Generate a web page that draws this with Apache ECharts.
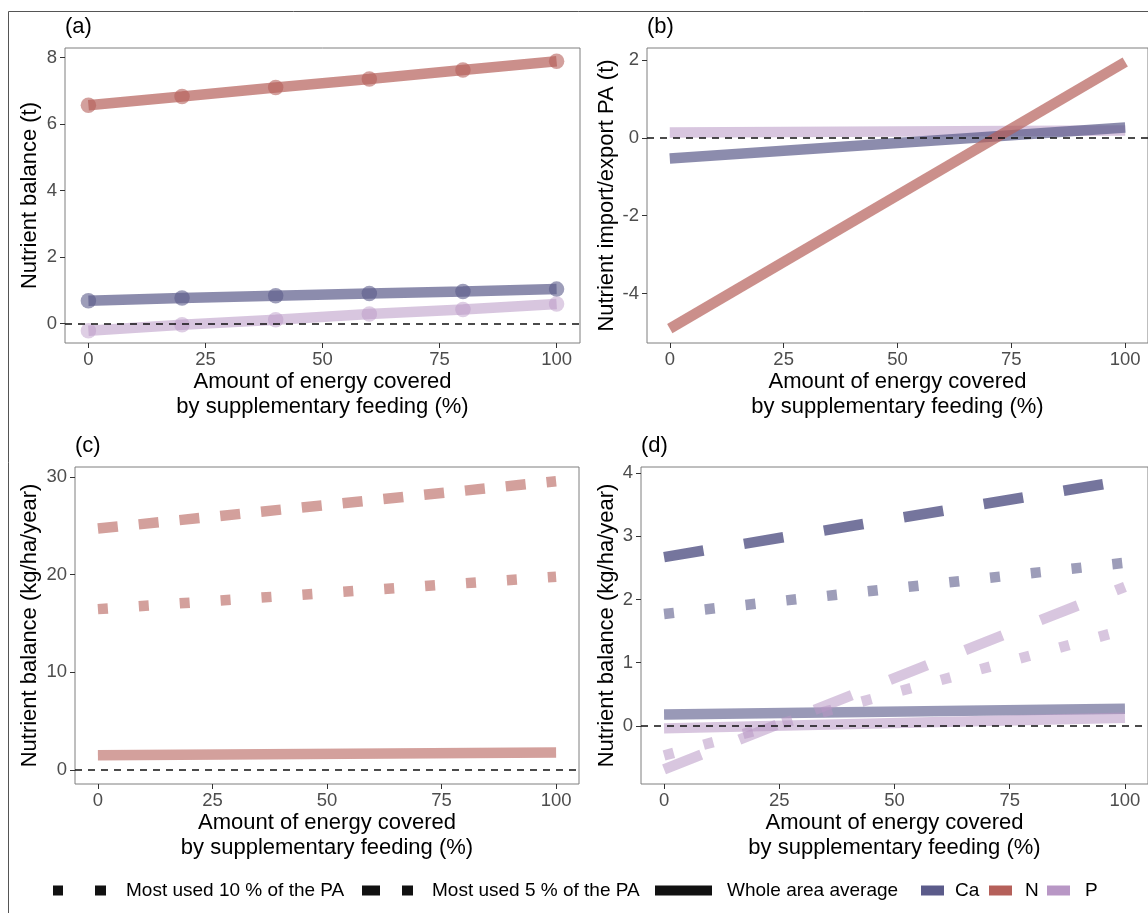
<!DOCTYPE html>
<html><head><meta charset="utf-8">
<script src="https://cdn.jsdelivr.net/npm/echarts@6/dist/echarts.min.js"></script>
<style>html,body{margin:0;padding:0;background:#fff}#c{width:1148px;height:913px}</style>
</head><body><div id="c"></div>
<script>
// ---------- data ----------
const xTicks = [0, 25, 50, 75, 100];
const yTicksA = [0, 2, 4, 6, 8];
const yTicksB = [-4, -2, 0, 2];
const yTicksC = [0, 10, 20, 30];
const yTicksD = [0, 1, 2, 3, 4];

// panel (a): points every 20 %
const xA = [0, 20, 40, 60, 80, 100];
const nA = [6.57, 6.83, 7.10, 7.36, 7.63, 7.89];
const caA = [0.69, 0.77, 0.84, 0.91, 0.97, 1.04];
const pA = [-0.21, -0.03, 0.12, 0.29, 0.43, 0.59];

// straight lines (b)-(d): values at 0 % and 100 %
const xLine = [0, 100];
const nB = [-4.9, 1.95];
const caB = [-0.53, 0.27];
const pB = [0.14, 0.19];

const nC10 = [16.46, 19.77];
const nC5 = [24.7, 29.55];
const nCall = [1.5, 1.8];

const caD10 = [1.77, 2.58];
const caD5 = [2.67, 3.88];
const caDall = [0.18, 0.27];
const pD10 = [-0.47, 1.52];
const pD5 = [-0.69, 2.2];
const pDall = [-0.04, 0.13];

const panelLabels = ['(a)', '(b)', '(c)', '(d)'];
const yTitles = ['Nutrient balance (t)', 'Nutrient import/export PA (t)', 'Nutrient balance (kg/ha/year)', 'Nutrient balance (kg/ha/year)'];
const xTitle = 'Amount of energy covered\nby supplementary feeding (%)';
const legendLabels = ['Most used 10 % of the PA', 'Most used 5 % of the PA', 'Whole area average', 'Ca', 'N', 'P'];

// ---------- style ----------
const FONT = '"Liberation Sans", Arial, Helvetica, sans-serif';
const COL = { Ca: '#5b5b8a', N: '#b5605a', P: '#b897c5' };
const DASH5C = [20, 21], DASH5D = [40, 41], DOT10 = [10, 31];
const LW = 10.5;

const grids = [
  { left: 65, top: 48, width: 515, height: 295 },
  { left: 647, top: 48, width: 508, height: 295 },
  { left: 75, top: 467, width: 504, height: 317 },
  { left: 641, top: 467, width: 514, height: 317 }
];
const yRanges = [[-0.58, 8.29], [-5.27, 2.31], [-1.43, 31.0], [-0.92, 4.095]];
const yTickSets = [yTicksA, yTicksB, yTicksC, yTicksD];
const yNameGaps = [24, 29, 34, 23];

function pts(xs, ys) { return xs.map((x, i) => [x, ys[i]]); }

function line(g, color, xs, ys, o) {
  o = o || {};
  return {
    type: 'line', xAxisIndex: g, yAxisIndex: g, silent: true,
    data: pts(xs, ys),
    showSymbol: !!o.symbol, symbol: 'circle', symbolSize: o.symbol ? 15.5 : 0,
    lineStyle: { color: color, width: LW, opacity: o.op || 0.6, type: o.type || 'solid', cap: 'butt' },
    itemStyle: { color: color, opacity: (o.op || 0.6) * 0.85, borderWidth: 0 },
    z: o.z || 2
  };
}
function zeroLine(g) {
  return {
    type: 'line', xAxisIndex: g, yAxisIndex: g, silent: true, data: [],
    markLine: {
      silent: true, symbol: ['none', 'none'], label: { show: false }, animation: false,
      lineStyle: { color: '#111', width: 1.7, type: [7, 6] },
      data: [{ yAxis: 0 }]
    }, z: 5
  };
}

const series = [
  // (a)
  line(0, COL.N, xA, nA, { symbol: true, op: 0.7 }),
  line(0, COL.Ca, xA, caA, { symbol: true, op: 0.7 }),
  line(0, COL.P, xA, pA, { symbol: true, op: 0.55 }),
  zeroLine(0),
  // (b)
  line(1, COL.P, xLine, pB, { op: 0.55 }),
  line(1, COL.Ca, xLine, caB, { op: 0.7 }),
  line(1, COL.N, xLine, nB, { op: 0.7 }),
  zeroLine(1),
  // (c)
  line(2, COL.N, xLine, nCall, { op: 0.6 }),
  line(2, COL.N, xLine, nC10, { op: 0.6, type: DOT10 }),
  line(2, COL.N, xLine, nC5, { op: 0.6, type: DASH5C }),
  zeroLine(2),
  // (d)
  line(3, COL.Ca, xLine, caDall, { op: 0.62 }),
  line(3, COL.P, xLine, pDall, { op: 0.55 }),
  line(3, COL.Ca, xLine, caD10, { op: 0.6, type: DOT10 }),
  line(3, COL.Ca, xLine, caD5, { op: 0.84, type: DASH5D }),
  line(3, COL.P, xLine, pD10, { op: 0.55, type: DOT10 }),
  line(3, COL.P, xLine, pD5, { op: 0.55, type: DASH5D }),
  zeroLine(3)
];

// legend helper series (no data)
const legendColors = ['#111', '#111', '#111', COL.Ca, COL.N, COL.P];
legendLabels.forEach((name, i) => {
  series.push({ type: 'line', name: name, xAxisIndex: 0, yAxisIndex: 0, data: [],
    itemStyle: { color: legendColors[i] }, lineStyle: { color: legendColors[i] } });
});
const legendLayout = [
  { left: 53, w: 53, icon: 'path://M0,0h10v10h-10z M42,0h11v10h-11z', pad: 15 },
  { left: 362, w: 51, icon: 'path://M0,0h18v10h-18z M40,0h11v10h-11z', pad: 14 },
  { left: 655, w: 57, icon: 'rect', pad: 10 },
  { left: 921, w: 23, icon: 'rect', pad: 6 },
  { left: 989, w: 23, icon: 'rect', pad: 8 },
  { left: 1047, w: 23, icon: 'rect', pad: 10 }
];
const legends = legendLabels.map((name, i) => ({
  data: [{ name: name, icon: legendLayout[i].icon,
    itemStyle: { color: legendColors[i], borderWidth: 0, borderColor: legendColors[i] } }],
  left: legendLayout[i].left, top: 881, padding: 0, itemWidth: legendLayout[i].w, itemHeight: 10,
  selectedMode: false, symbolKeepAspect: false,
  textStyle: { fontSize: 19, color: '#000', fontFamily: FONT, padding: [0, 0, 0, legendLayout[i].pad] }
}));

const option = {
  animation: false,
  textStyle: { fontFamily: FONT },
  title: panelLabels.map((t, i) => ({
    text: t, left: grids[i].left, top: i < 2 ? 16 : 435, padding: 0,
    textStyle: { fontSize: 22, fontWeight: 'normal', color: '#000', fontFamily: FONT }
  })),
  grid: grids.map(g => Object.assign({ show: true, borderColor: '#7f7f7f', borderWidth: 1, backgroundColor: 'transparent' }, g)),
  xAxis: grids.map((g, i) => ({
    type: 'value', gridIndex: i, min: -5, max: 105,
    axisLine: { show: false, onZero: false },
    axisTick: { show: true, length: 5, lineStyle: { color: '#333' }, customValues: xTicks },
    axisLabel: { customValues: xTicks, color: '#4d4d4d', fontSize: 18.5, margin: 7, fontFamily: FONT },
    splitLine: { show: false },
    name: xTitle, nameLocation: 'middle', nameGap: 25,
    nameTextStyle: { fontSize: 22, color: '#000', lineHeight: 25, fontFamily: FONT }
  })),
  yAxis: grids.map((g, i) => ({
    type: 'value', gridIndex: i, min: yRanges[i][0], max: yRanges[i][1],
    axisLine: { show: false, onZero: false },
    axisTick: { show: true, length: 5, lineStyle: { color: '#333' }, customValues: yTickSets[i] },
    axisLabel: { customValues: yTickSets[i], color: '#4d4d4d', fontSize: 18.5, margin: 8, fontFamily: FONT },
    splitLine: { show: false },
    name: yTitles[i], nameLocation: 'middle', nameGap: yNameGaps[i],
    nameTextStyle: { fontSize: 22, color: '#000', fontFamily: FONT }
  })),
  legend: legends,
  graphic: [{ type: 'rect', silent: true, shape: { x: 8.5, y: 11.5, width: 1300, height: 1000 },
    style: { fill: 'none', stroke: '#555', lineWidth: 1 } }],
  series: series
};
const chart = echarts.init(document.getElementById('c'), null, { renderer: 'canvas' });
chart.setOption(option);
</script></body></html>
